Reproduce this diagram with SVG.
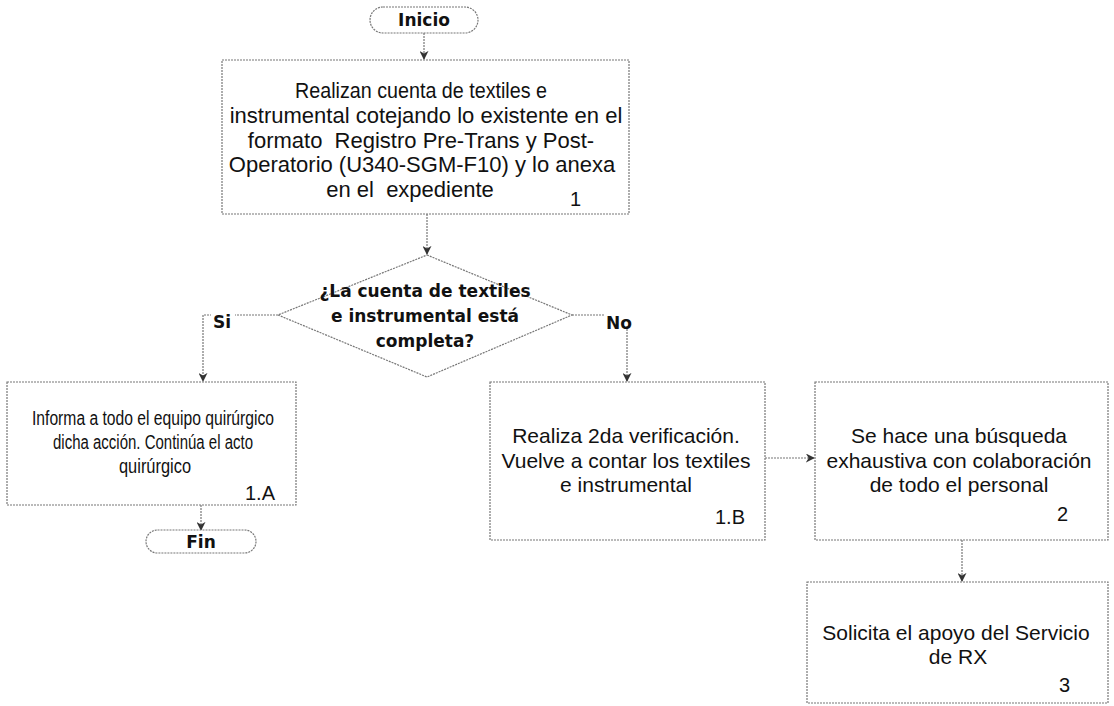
<svg xmlns="http://www.w3.org/2000/svg" width="1114" height="706" viewBox="0 0 1114 706">
<defs>
<style>
.b{fill:#fff;stroke:#777;stroke-width:1.2;stroke-dasharray:2,1}
.c{fill:none;stroke:#777;stroke-width:1.2;stroke-dasharray:2,1}
.t{font-family:"Liberation Sans",Arial,sans-serif;font-size:21px;fill:#111;text-anchor:middle}
.t1{font-size:22px}
.ta{font-size:20px}
.k{font-family:"DejaVu Sans","Liberation Sans",sans-serif;font-size:17px;font-weight:bold;fill:#111;text-anchor:middle}
.n{font-family:"Liberation Sans",Arial,sans-serif;font-size:20px;fill:#111;text-anchor:end}
</style>
<marker id="a" viewBox="0 0 10 10" refX="9" refY="5" markerWidth="9" markerHeight="9" markerUnits="userSpaceOnUse" orient="auto">
<path d="M0,0 L10,5 L0,10 L3,5 z" fill="#333"/>
</marker>
</defs>
<rect width="1114" height="706" fill="#fff"/>
<g id="connectors">
<line class="c" x1="424" y1="33" x2="424" y2="59" marker-end="url(#a)"/>
<line class="c" x1="427" y1="214" x2="427" y2="254" marker-end="url(#a)"/>
<polyline class="c" points="278,315 203,315 203,381" marker-end="url(#a)"/>
<polyline class="c" points="572,315 627,315 627,381" marker-end="url(#a)"/>
<line class="c" x1="201" y1="505" x2="201" y2="530" marker-end="url(#a)"/>
<line class="c" x1="765" y1="458" x2="814" y2="458" marker-end="url(#a)"/>
<line class="c" x1="962" y1="540" x2="962" y2="581" marker-end="url(#a)"/>
</g>
<g id="inicio">
<rect class="b" x="370" y="7" width="108" height="26" rx="13"/>
<text class="k" x="424" y="26">Inicio</text>
</g>
<g id="n1">
<rect class="b" x="222" y="60" width="407" height="154"/>
<text class="t t1" x="421" y="98" textLength="252" lengthAdjust="spacingAndGlyphs">Realizan cuenta de textiles e</text>
<text class="t t1" x="426" y="123">instrumental cotejando lo existente en el</text>
<text class="t t1" x="421" y="148" xml:space="preserve">formato  Registro Pre-Trans y Post-</text>
<text class="t t1" x="422" y="172">Operatorio (U340-SGM-F10) y lo anexa</text>
<text class="t t1" x="410" y="197" xml:space="preserve">en el  expediente</text>
<text class="n" x="581" y="206">1</text>
</g>
<g id="decision">
<polygon class="b" points="427,255 572,315 427,377 278,315"/>
<text class="k" x="425" y="297">¿La cuenta de textiles</text>
<text class="k" x="425" y="322">e instrumental está</text>
<text class="k" x="425" y="347">completa?</text>
</g>
<g id="lbl-si">
<rect x="211" y="308" width="24" height="18" fill="#fff"/>
<text class="k" x="222" y="328">Si</text>
</g>
<g id="lbl-no">
<rect x="604" y="308" width="32" height="18" fill="#fff"/>
<text class="k" x="619" y="329">No</text>
</g>
<g id="n1a">
<rect class="b" x="7" y="382" width="289" height="123"/>
<text class="t ta" x="153" y="425" textLength="242" lengthAdjust="spacingAndGlyphs">Informa a todo el equipo quirúrgico</text>
<text class="t ta" x="153" y="449" textLength="200" lengthAdjust="spacingAndGlyphs">dicha acción. Continúa el acto</text>
<text class="t ta" x="155" y="473" textLength="72" lengthAdjust="spacingAndGlyphs">quirúrgico</text>
<text class="n" x="275" y="500">1.A</text>
</g>
<g id="fin">
<rect class="b" x="146" y="530" width="110" height="23" rx="11.5"/>
<text class="k" x="201" y="548">Fin</text>
</g>
<g id="n1b">
<rect class="b" x="490" y="382" width="275" height="158"/>
<text class="t" x="626" y="443">Realiza 2da verificación.</text>
<text class="t" x="626" y="468">Vuelve a contar los textiles</text>
<text class="t" x="626" y="492">e instrumental</text>
<text class="n" x="745" y="524">1.B</text>
</g>
<g id="n2">
<rect class="b" x="815" y="382" width="293" height="158"/>
<text class="t" x="959" y="443">Se hace una búsqueda</text>
<text class="t" x="959" y="468">exhaustiva con colaboración</text>
<text class="t" x="959" y="492">de todo el personal</text>
<text class="n" x="1068" y="521">2</text>
</g>
<g id="n3">
<rect class="b" x="807" y="582" width="301" height="121"/>
<text class="t" x="956" y="640">Solicita el apoyo del Servicio</text>
<text class="t" x="958" y="664">de RX</text>
<text class="n" x="1070" y="692">3</text>
</g>
</svg>
